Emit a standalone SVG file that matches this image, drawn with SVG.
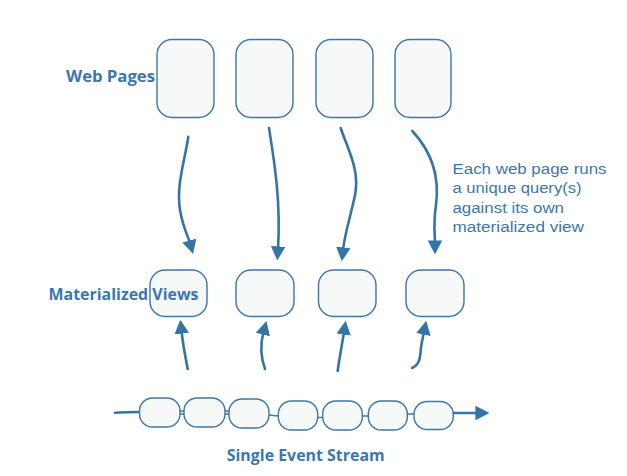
<svg xmlns="http://www.w3.org/2000/svg" width="627" height="476" viewBox="0 0 627 476">
<style>
.box{fill:#f7f9f9;stroke:#3c76ab;stroke-width:1.4}
.lbl{fill:#3a77b0;font-family:"Open Sans","Liberation Sans",sans-serif;font-weight:bold;font-size:15.5px}
.note{fill:#3a77b0;font-family:"Liberation Sans","Open Sans",sans-serif;font-size:15.5px}
.con{fill:none;stroke:#3574a8;stroke-width:2.6;stroke-linecap:round}
.link{fill:none;stroke:#3c76ab;stroke-width:1.6}
</style>
<defs>
<marker id="ah" markerWidth="5.4" markerHeight="5.6" refX="1" refY="2.8" orient="auto" markerUnits="strokeWidth">
<path d="M0,0 L5.4,2.8 L0,5.6 Z" fill="#3574a8"/>
</marker>
</defs>
<rect width="627" height="476" fill="#ffffff"/>
<g id="web-pages">
<g id="wp1"><rect class="box" x="157" y="39.5" width="57" height="78" rx="15"/></g>
<g id="wp2"><rect class="box" x="236" y="39.5" width="57" height="78" rx="15"/></g>
<g id="wp3"><rect class="box" x="316" y="39.5" width="57" height="78" rx="15"/></g>
<g id="wp4"><rect class="box" x="395" y="39.5" width="56" height="78" rx="15"/></g>
</g>
<g id="materialized-views">
<g id="mv1"><rect class="box" x="150" y="270" width="57" height="46.5" rx="15"/></g>
<g id="mv2"><rect class="box" x="236" y="270" width="58" height="46.5" rx="15"/></g>
<g id="mv3"><rect class="box" x="318.5" y="270" width="57.5" height="46.5" rx="15"/></g>
<g id="mv4"><rect class="box" x="406" y="270" width="58" height="46.5" rx="15"/></g>
</g>
<g id="connectors">
<path class="con" marker-end="url(#ah)" d="M188.3,136.7 C185,160 176,185 180,210 C183,228 188,236 190,243"/>
<path class="con" marker-end="url(#ah)" d="M269,128 C274,160 281,200 278,249"/>
<path class="con" marker-end="url(#ah)" d="M340.7,128 C348,150 360,170 355,195 C351,215 345,232 343,250"/>
<path class="con" marker-end="url(#ah)" d="M412.3,131 C430,150 440,175 436,205 C433,225 435,235 435,243"/>
<path class="con" marker-end="url(#ah)" d="M187.7,369 C185,355 183,345 181.5,331"/>
<path class="con" marker-end="url(#ah)" d="M265,369 C261,358 260,345 263.5,332"/>
<path class="con" marker-end="url(#ah)" d="M337.7,371 C339,360 342,345 344,332"/>
<path class="con" marker-end="url(#ah)" d="M412,368 C421,364 420,355 421,348 C422,340 423,337 424,332"/>
<path class="con" marker-end="url(#ah)" d="M115,412.7 C125,412 132,412 139,412 M453,413 L478,413"/>
<path class="link" d="M180,411 L184,411 M180,414 L184,414 M225,411 L229,411 M225,414 L229,414 M269,415 L278,416 M317.7,417.5 L322.7,417.5 M362.3,416 L368.3,416 M407.3,414 L414,414"/>
</g>
<g id="event-stream">
<rect class="box" x="139.5" y="398" width="40.5" height="29" rx="13"/>
<rect class="box" x="184" y="398" width="41" height="29" rx="13"/>
<rect class="box" x="229" y="399" width="40" height="29" rx="13"/>
<rect class="box" x="278.3" y="401" width="39.4" height="29" rx="13"/>
<rect class="box" x="322.7" y="401" width="39.6" height="29" rx="13"/>
<rect class="box" x="368.3" y="401" width="39" height="29" rx="13"/>
<rect class="box" x="414" y="401.5" width="39.3" height="28" rx="13"/>
</g>
<g id="labels">
<text class="lbl" x="66" y="81.5" textLength="89" lengthAdjust="spacingAndGlyphs">Web Pages</text>
<text class="lbl" x="48.5" y="300" textLength="150" lengthAdjust="spacingAndGlyphs">Materialized Views</text>
<text class="lbl" x="226.7" y="461" textLength="158" lengthAdjust="spacingAndGlyphs">Single Event Stream</text>
<text class="note" x="452.5" y="173.5" textLength="154" lengthAdjust="spacingAndGlyphs">Each web page runs</text>
<text class="note" x="452.5" y="193" textLength="129" lengthAdjust="spacingAndGlyphs">a unique query(s)</text>
<text class="note" x="452.5" y="212.5" textLength="111.5" lengthAdjust="spacingAndGlyphs">against its own</text>
<text class="note" x="452.5" y="232" textLength="131.5" lengthAdjust="spacingAndGlyphs">materialized view</text>
</g>
</svg>
